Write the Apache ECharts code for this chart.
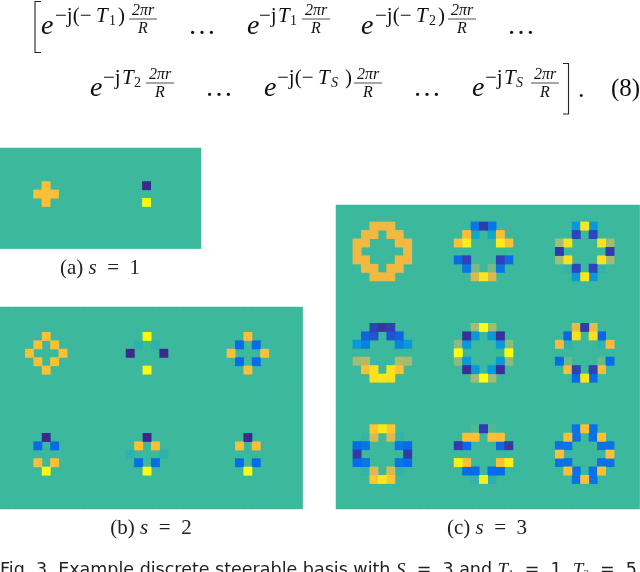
<!DOCTYPE html>
<html>
<head>
<meta charset="utf-8">
<script src="https://cdn.jsdelivr.net/npm/echarts@6/dist/echarts.min.js"></script>
<style>html,body{margin:0;padding:0;background:#fff;overflow:hidden}#c{width:640px;height:572px}</style>
</head>
<body>
<div id="c"></div>
<script>
// Basis patches: each kernel is centred on cell (5,5) of a 12x12 patch. Values on the parula scale -1..1
const a1 = [[0,.55,0],[.55,.55,.55],[0,.55,0]];
const a2 = [[0,-1,0],[0,0,0],[0,1,0]];
const b11 = [[0,0,.55,0,0],[0,.55,0,.55,0],[.55,0,0,0,.55],[0,.55,0,.55,0],[0,0,.55,0,0]];
const b12 = [[0,0,1,0,0],[0,-.07,0,-.07,0],[-1,0,0,0,-1],[0,0,0,0,0],[0,0,1,0,0]];
const b13 = [[0,0,.55,0,0],[0,-.5,0,-.5,0],[.55,0,0,0,.55],[0,-.5,0,-.5,0],[0,0,.55,0,0]];
const b21 = [[0,0,-1,0,0],[0,-.5,0,-.5,0],[0,0,0,0,0],[0,.55,0,.55,0],[0,0,1,0,0]];
const b22 = [[0,0,-1,0,0],[0,.55,0,.55,0],[-.07,0,0,0,-.07],[0,-.5,0,-.5,0],[0,0,1,0,0]];
const b23 = [[0,0,-1,0,0],[0,.55,0,.55,0],[0,0,0,0,0],[0,-.5,0,-.5,0],[0,0,1,0,0]];
const c11 = [
 [0,0,.47,.47,.47,0,0],[0,.47,.47,0,.47,.47,0],[.47,.47,0,0,0,.47,.47],[.47,0,0,0,0,0,.47],
 [.47,.47,0,0,0,.47,.47],[0,.47,.47,0,.47,.47,0],[0,0,.47,.47,.47,0,0]];
const c12 = [
 [0,0,-.45,-.85,-.45,0,0],[0,.52,-.2,0,-.2,.52,0],[.55,.9,0,0,0,.9,.55],[0,0,0,0,0,0,0],
 [-.5,-.8,0,0,0,-.8,-.5],[0,-.45,.15,0,.15,-.45,0],[0,0,.4,.85,.4,0,0]];
const c13 = [
 [0,0,-.3,.85,-.3,0,0],[0,0,-.75,0,-.75,0,0],[.25,.8,0,0,0,.8,.25],[-.85,0,0,0,0,0,-.85],
 [.25,.8,0,0,0,.8,.25],[0,-.05,-.75,0,-.75,-.05,0],[0,0,-.3,.85,-.3,0,0]];
const c21 = [
 [0,0,-.8,-.9,-.8,0,0],[0,-.55,-.65,0,-.65,-.55,0],[-.3,-.4,0,0,0,-.4,-.3],[0,0,0,0,0,0,0],
 [.25,.3,0,0,0,.3,.25],[0,.55,.8,0,.8,.55,0],[0,0,.8,.85,.8,0,0]];
const c22 = [
 [0,0,.25,1,.25,0,0],[0,-.95,-.3,0,-.3,-.95,0],[.2,-.3,0,0,0,-.3,.2],[1,0,0,0,0,0,1],
 [.2,-.3,0,0,0,-.3,.2],[0,-.95,-.3,0,-.3,-.95,0],[0,0,.25,1,.25,0,0]];
const c23 = [
 [0,0,.45,-.85,.45,0,0],[0,-.55,.8,0,.8,-.55,0],[.5,-.07,0,0,0,-.07,.5],[0,0,0,0,0,0,0],
 [-.5,.1,0,0,0,.1,-.5],[0,.5,-.8,0,-.8,.5,0],[0,0,-.5,.85,-.5,0,0]];
const c31 = [
 [0,0,.6,.85,.6,0,0],[0,-.05,.4,0,.4,-.05,0],[-.5,-.45,0,0,0,-.45,-.5],[-.85,0,0,0,0,0,-.85],
 [-.5,-.45,0,0,0,-.45,-.5],[0,-.05,.4,0,.4,-.05,0],[0,0,.6,.85,.6,0,0]];
const c32 = [
 [0,0,.05,-.85,.05,0,0],[0,.55,.55,0,.55,.55,0],[-.85,-.5,0,0,0,-.5,-.85],[0,0,0,0,0,0,0],
 [.9,.55,0,0,0,.55,.9],[0,-.5,-.5,0,-.5,-.5,0],[0,0,-.05,.9,-.1,0,0]];
const c33 = [
 [0,0,-.47,.55,-.47,0,0],[0,.55,-.47,0,-.47,.55,0],[-.47,-.47,0,0,0,-.47,-.47],[.55,0,0,0,0,0,.55],
 [-.47,-.47,0,0,0,-.47,-.47],[0,.55,-.47,0,-.47,.55,0],[0,0,-.47,.55,-.47,0,0]];

const panelA = [[a1,a2]];
const panelB = [[b11,b12,b13],[b21,b22,b23]];
const panelC = [[c11,c12,c13],[c21,c22,c23],[c31,c32,c33]];
const parula = ['#3a2a8e','#2f45c0','#0a6be8','#08a4d6','#3cb89d','#a2bc72','#fdb93b','#fbd922','#fcfc10'];

const PATCH = 12;
function cellsOf(panel){
  const rows = panel.length, cols = panel[0].length, cells = [];
  const grid = Array.from({length:rows*PATCH},()=>new Array(cols*PATCH).fill(0));
  panel.forEach((row,pr)=>row.forEach((k,pc)=>{
    const off = 5-Math.floor(k.length/2);
    k.forEach((line,r)=>line.forEach((v,c)=>{ grid[pr*PATCH+off+r][pc*PATCH+off+c]=v; }));
  }));
  grid.forEach((line,r)=>line.forEach((v,c)=>cells.push([c,r,v])));
  cells.sort((p,q)=>Math.abs(p[2])-Math.abs(q[2]));
  return {cells,nRows:rows*PATCH,nCols:cols*PATCH};
}
const idx = n => Array.from({length:n},(_,i)=>String(i));
const panels = [panelA,panelB,panelC].map(cellsOf);
const rects = [
  {left:0,top:148,width:201,height:100.5},
  {left:0,top:307,width:302.5,height:202},
  {left:336,top:205,width:303.5,height:304}
];

// Text pieces: [left x, centre y, text, size, italic]
const SERIF = '"Liberation Serif", serif';
const pieces = [
 [41,29,'e',28,1],[55,18,'−j(−',21,0],[96,18,'T',21,1],[109,22,'1',14,0],[118,18,')',21,0],
 [188,29,'…',28,0],
 [247,29,'e',28,1],[259,18,'−j',21,0],[278,18,'T',21,1],[290,22,'1',14,0],
 [361,29,'e',28,1],[375,18,'−j(−',21,0],[416,18,'T',21,1],[429,22,'2',14,0],[438,18,')',21,0],
 [507,29,'…',28,0],
 [90,91,'e',28,1],[103,80,'−j',21,0],[122,80,'T',21,1],[134,84,'2',14,0],
 [205,91,'…',28,0],
 [264,91,'e',28,1],[277,80,'−j(−',21,0],[318,80,'T',21,1],[331,84,'S',14,1],[345,80,')',21,0],
 [413,91,'…',28,0],
 [472,91,'e',28,1],[485,80,'−j',21,0],[504,80,'T',21,1],[516,84,'S',14,1],
 [578,92,'.',26,0],[611,91,'(8)',25,0]
];
const fracXs = [[129,157,19],[302,330,19],[448,476,19],[146,174,83],[354,382,83],[531,559,83]];
const captions = [
 [100,268,'(a) ','s','  =  1'],[151,528,'(b) ','s','  =  2'],[487,528,'(c) ','s','  =  3']
];

const graphic = [];
pieces.forEach(p=>graphic.push({type:'text',silent:true,left:p[0],top:p[1]-p[3]*0.58,
  style:{text:p[2],fill:'#111',font:(p[4]?'italic ':'')+p[3]+'px '+SERIF}}));
fracXs.forEach(f=>{
  const cx=(f[0]+f[1])/2;
  graphic.push({type:'text',silent:true,x:cx,y:f[2]-8.5,style:{text:'2πr',fill:'#111',align:'center',verticalAlign:'middle',font:'italic 16px '+SERIF}});
  graphic.push({type:'text',silent:true,x:cx,y:f[2]+9.5,style:{text:'R',fill:'#111',align:'center',verticalAlign:'middle',font:'italic 16px '+SERIF}});
  graphic.push({type:'line',silent:true,shape:{x1:f[0],y1:f[2],x2:f[1],y2:f[2]},style:{stroke:'#222',lineWidth:0.8}});
});
graphic.push({type:'polyline',silent:true,shape:{points:[[41,1.5],[35,1.5],[35,52.5],[41,52.5]]},style:{stroke:'#222',fill:'none',lineWidth:1.1}});
graphic.push({type:'polyline',silent:true,shape:{points:[[563,63.5],[568.5,63.5],[568.5,114],[563,114]]},style:{stroke:'#222',fill:'none',lineWidth:1.1}});
captions.forEach(c=>graphic.push({type:'text',silent:true,x:c[0],y:c[1],
  style:{text:'{n|'+c[2]+'}{i|'+c[3]+'}{n|'+c[4]+'}',align:'center',verticalAlign:'middle',
    rich:{n:{font:'21px '+SERIF,fill:'#222'},i:{font:'italic 21px '+SERIF,fill:'#222'}}}}));
graphic.push({type:'text',silent:true,left:0,top:561,
  style:{text:'{n|Fig. 3. Example discrete steerable basis with }{i|S}{n|  =  3 and }{i|T}{s|1}{n|  =  1, }{i|T}{s|2}{n|  =  5}',
    rich:{n:{font:'17.5px "DejaVu Sans", sans-serif',fill:'#222'},i:{font:'italic 19px '+SERIF,fill:'#222'},s:{font:'11px '+SERIF,fill:'#222',verticalAlign:'bottom',padding:[6,0,0,0]}}}});

const chart = echarts.init(document.getElementById('c'),null,{renderer:'canvas'});
chart.setOption({
  animation:false,
  backgroundColor:'#ffffff',
  grid:rects.map(r=>({...r,show:true,backgroundColor:'#3cb89d',borderWidth:0,containLabel:false})),
  xAxis:panels.map((p,i)=>({type:'category',gridIndex:i,data:idx(p.nCols),show:false})),
  yAxis:panels.map((p,i)=>({type:'category',gridIndex:i,data:idx(p.nRows),inverse:true,show:false})),
  visualMap:{show:false,min:-1,max:1,seriesIndex:[0,1,2],inRange:{color:parula}},
  series:panels.map((p,i)=>({type:'heatmap',xAxisIndex:i,yAxisIndex:i,data:p.cells,silent:true,progressive:0,emphasis:{disabled:true}})),
  graphic:graphic
});
</script>
</body>
</html>
